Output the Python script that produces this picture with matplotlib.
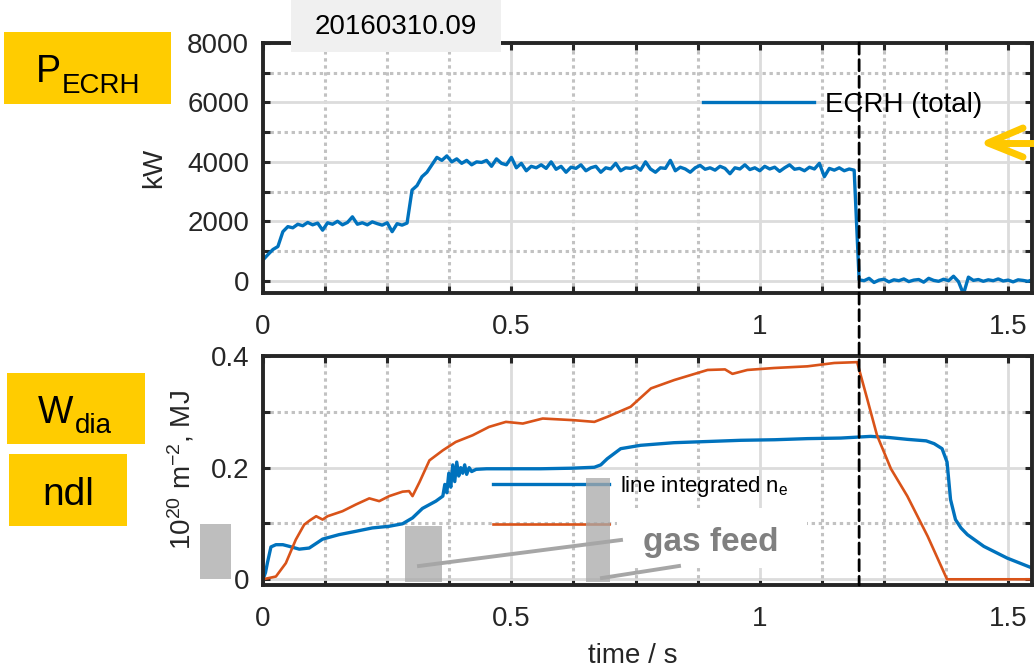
import numpy as np
import matplotlib.pyplot as plt
from matplotlib.patches import Rectangle, ConnectionPatch
from matplotlib.lines import Line2D
from matplotlib.ticker import MultipleLocator, FixedLocator

plt.rcParams['font.family'] = ['Liberation Sans', 'DejaVu Sans']
plt.rcParams['mathtext.fontset'] = 'custom'
plt.rcParams['mathtext.rm'] = 'Liberation Sans'
plt.rcParams['mathtext.it'] = 'Liberation Sans:italic'

W, H = 1034, 668

# ECRH total power, kW (sampled every 10 ms)
ecrh_t = [0.00, 0.01, 0.02, 0.03, 0.04, 0.05, 0.06, 0.07, 0.08, 0.09,
          0.10, 0.11, 0.12, 0.13, 0.14, 0.15, 0.16, 0.17, 0.18, 0.19,
          0.20, 0.21, 0.22, 0.23, 0.24, 0.25, 0.26, 0.27, 0.28, 0.29,
          0.30, 0.31, 0.32, 0.33, 0.34, 0.35, 0.36, 0.37, 0.38, 0.39,
          0.40, 0.41, 0.42, 0.43, 0.44, 0.45, 0.46, 0.47, 0.48, 0.49,
          0.50, 0.51, 0.52, 0.53, 0.54, 0.55, 0.56, 0.57, 0.58, 0.59,
          0.60, 0.61, 0.62, 0.63, 0.64, 0.65, 0.66, 0.67, 0.68, 0.69,
          0.70, 0.71, 0.72, 0.73, 0.74, 0.75, 0.76, 0.77, 0.78, 0.79,
          0.80, 0.81, 0.82, 0.83, 0.84, 0.85, 0.86, 0.87, 0.88, 0.89,
          0.90, 0.91, 0.92, 0.93, 0.94, 0.95, 0.96, 0.97, 0.98, 0.99,
          1.00, 1.01, 1.02, 1.03, 1.04, 1.05, 1.06, 1.07, 1.08, 1.09,
          1.10, 1.11, 1.12, 1.13, 1.14, 1.15, 1.16, 1.17, 1.18, 1.19,
          1.20, 1.21, 1.22, 1.23, 1.24, 1.25, 1.26, 1.27, 1.28, 1.29,
          1.30, 1.31, 1.32, 1.33, 1.34, 1.35, 1.36, 1.37, 1.38, 1.39,
          1.40, 1.41, 1.42, 1.43, 1.44, 1.45, 1.46, 1.47, 1.48, 1.49,
          1.50, 1.51, 1.52, 1.53, 1.54, 1.55]
ecrh_kw = [700, 880, 1050, 1150, 1650, 1820, 1780, 1900, 1850, 1960,
           1880, 1940, 1700, 1950, 1900, 2000, 1880, 1960, 2150, 1900,
           1950, 1880, 1980, 1920, 1870, 1950, 1650, 1920, 1870, 1940,
           3050, 3200, 3500, 3650, 3900, 4150, 4050, 4200, 4000, 4100,
           3950, 4050, 3900, 4000, 3980, 4050, 3850, 4100, 3950, 3900,
           4150, 3800, 3950, 3700, 3850, 3800, 3900, 3780, 4000, 3750,
           3850, 3650, 3820, 3780, 3900, 3700, 3800, 3850, 3650, 3800,
           3760, 3950, 3700, 3800, 3780, 3850, 3720, 4000, 3760, 3650,
           3800, 3780, 4050, 3700, 3820, 3760, 3650, 3800, 3880, 3750,
           3800, 3720, 3850, 3780, 3600, 3800, 3760, 3900, 3740, 3800,
           3700, 3850, 3760, 3820, 3680, 3800, 3900, 3750, 3780, 3700,
           3820, 3760, 3950, 3500, 3780, 3720, 3800, 3700, 3760, 3720,
           30, 0, 80, -60, 20, 50, -40, 30, 0, 60,
           -30, 20, 40, -50, 80, 10, -20, 50, 0, 150,
           -30, -450, 120, 10, 40, -20, 30, 0, 60, -10,
           20, -40, 30, 10, -20, 40]

# line integrated density, 1e20 m^-2
ne_t = [0.0, 0.005, 0.009, 0.016, 0.026, 0.04, 0.053, 0.073, 0.093, 0.11,
        0.12, 0.153, 0.187, 0.22, 0.254, 0.281, 0.301, 0.321, 0.348, 0.362,
        0.366, 0.37, 0.374, 0.378, 0.382, 0.386, 0.39, 0.394, 0.398, 0.402,
        0.406, 0.41, 0.415, 0.42, 0.429, 0.45, 0.5, 0.559, 0.62, 0.667,
        0.68, 0.693, 0.72, 0.76, 0.827, 0.9, 0.962, 1.03, 1.096, 1.163,
        1.223, 1.26, 1.297, 1.335, 1.351, 1.367, 1.377, 1.384, 1.394, 1.405,
        1.418, 1.451, 1.498, 1.549]
ne_val = [0.0, 0.012, 0.03, 0.058, 0.062, 0.062, 0.059, 0.054, 0.056, 0.066,
          0.072, 0.080, 0.086, 0.092, 0.095, 0.0995, 0.110, 0.127, 0.140, 0.149,
          0.170, 0.155, 0.190, 0.165, 0.205, 0.175, 0.210, 0.185, 0.200, 0.190,
          0.205, 0.188, 0.200, 0.193, 0.197, 0.198, 0.198, 0.198, 0.199, 0.2007,
          0.205, 0.216, 0.234, 0.240, 0.2447, 0.247, 0.249, 0.250, 0.252, 0.253,
          0.256, 0.254, 0.2507, 0.248, 0.243, 0.234, 0.210, 0.143, 0.107, 0.092,
          0.080, 0.059, 0.038, 0.020]

# diamagnetic energy, MJ
wdia_t = [0.0, 0.026, 0.046, 0.066, 0.083, 0.095, 0.107, 0.12, 0.13, 0.14,
          0.16, 0.187, 0.214, 0.234, 0.254, 0.281, 0.294, 0.301, 0.315, 0.335,
          0.362, 0.388, 0.422, 0.455, 0.489, 0.523, 0.563, 0.626, 0.667, 0.693,
          0.74, 0.781, 0.828, 0.895, 0.93, 0.945, 0.975, 1.029, 1.096, 1.15,
          1.196, 1.216, 1.236, 1.264, 1.297, 1.338, 1.377, 1.549]
wdia_val = [0.0, 0.005, 0.029, 0.071, 0.098, 0.106, 0.113, 0.107, 0.113, 0.116,
            0.122, 0.134, 0.145, 0.140, 0.149, 0.157, 0.158, 0.149, 0.174, 0.213,
            0.231, 0.246, 0.258, 0.273, 0.282, 0.279, 0.288, 0.285, 0.282, 0.291,
            0.309, 0.342, 0.357, 0.375, 0.376, 0.368, 0.375, 0.3785, 0.3815, 0.3875,
            0.389, 0.324, 0.258, 0.198, 0.149, 0.077, 0.0, 0.0]

t_ecrh_off = 1.2
shot = '20160310.09'

BLUE = '#0072BD'
ORANGE = '#D95319'
YELLOW = '#FFCC00'
DARK = '#262626'


def fx(x):
    return x / W


def fy(y):
    return 1 - y / H


def px_rect(x0, y0, x1, y1, **kw):
    r = Rectangle((fx(x0), fy(y1)), (x1 - x0) / W, (y1 - y0) / H,
                  transform=fig.transFigure, **kw)
    fig.add_artist(r)
    return r


def px_line(xs, ys, **kw):
    l = Line2D([fx(x) for x in xs], [fy(y) for y in ys],
               transform=fig.transFigure, **kw)
    fig.add_artist(l)
    return l


def style_axes(ax, ymajor, yminor):
    ax.set_xlim(0, 1.548)
    ax.set_xticks([0, 0.5, 1, 1.5])
    ax.set_xticklabels(['0', '0.5', '1', '1.5'])
    ax.xaxis.set_minor_locator(MultipleLocator(0.125))
    ax.yaxis.set_major_locator(FixedLocator(ymajor))
    ax.yaxis.set_minor_locator(FixedLocator(yminor))
    ax.grid(which='major', color='#dcdcdc', lw=2.0, ls='-')
    ax.grid(which='minor', color='#c2c2c2', lw=2.2, ls=(0, (1.1, 1.2)))
    ax.set_axisbelow(True)
    for s in ax.spines.values():
        s.set_linewidth(2.8)
        s.set_color(DARK)
    ax.tick_params(which='both', direction='in', top=True, right=True,
                   length=5, width=2.2, color=DARK, labelsize=20,
                   labelcolor=DARK)
    ax.tick_params(axis='y', which='both', pad=10)
    ax.tick_params(axis='x', which='both', pad=15)


fig = plt.figure(figsize=(W / 100, H / 100), dpi=100)

# top panel: ECRH power
ax1 = fig.add_axes([fx(263), fy(293), (1032 - 263) / W, (293 - 43) / H])
ax1.plot(ecrh_t, ecrh_kw, color=BLUE, lw=2.4, label='ECRH (total)')
ax1.set_ylim(-414, 8000)
style_axes(ax1, [0, 2000, 4000, 6000, 8000], [1000, 3000, 5000, 7000])
ax1.set_yticklabels(['0', '2000', '4000', '6000', '8000'])
ax1.set_ylabel('kW', fontsize=20, color=DARK)
ax1.yaxis.set_label_coords((167 - 263) / 769, 0.5)
ax1.legend(loc='center left', bbox_to_anchor=(fx(703), fy(105)),
           bbox_transform=fig.transFigure, frameon=False, borderpad=0,
           borderaxespad=0, handlelength=4.0, handletextpad=0.4, fontsize=20)

# bottom panel: density and stored energy
ax2 = fig.add_axes([fx(263), fy(585), (1032 - 263) / W, (585 - 356) / H])
l_ne, = ax2.plot(ne_t, ne_val, color=BLUE, lw=2.4)
l_w, = ax2.plot(wdia_t, wdia_val, color=ORANGE, lw=1.9)
ax2.set_ylim(-0.0102, 0.4)
style_axes(ax2, [0, 0.2, 0.4], [0.1, 0.3])
ax2.set_yticklabels(['0', '0.2', '0.4'])
ax2.set_ylabel('10$^{\\mathregular{20}}$ m$^{\\mathregular{-2}}$, MJ', fontsize=20, color=DARK)
ax2.yaxis.set_label_coords((197 - 263) / 769, 0.5)
ax2.set_xlabel('time / s', fontsize=20, color=DARK)
ax2.xaxis.set_label_coords((633 - 263) / 769, (585 - 643) / 229)
# second legend label is hidden under the white cover in the original slide
ax2.legend([l_ne, l_w], ['line integrated n$_{\\mathregular{e}}$', ' '],
           loc='center left', bbox_to_anchor=(fx(493), fy(505)),
           bbox_transform=fig.transFigure, frameon=False, borderpad=0,
           borderaxespad=0, handlelength=5.2, handletextpad=0.5,
           labelspacing=0.75, fontsize=16)

# ECRH switch-off marker across both panels
con = ConnectionPatch(xyA=(t_ecrh_off, 8000), coordsA='data', axesA=ax1,
                      xyB=(t_ecrh_off, -0.0102), coordsB='data', axesB=ax2,
                      color='black', lw=2.0, ls=(0, (4, 2)), zorder=5)
fig.add_artist(con)

# shot number box
px_rect(291, 0, 501, 52, facecolor='#f0f0f0', edgecolor='none')
fig.text(fx(396), fy(27), shot, ha='center', va='center', fontsize=20)

# yellow labels
px_rect(4, 32, 171, 104, facecolor=YELLOW, edgecolor='none')
fig.text(fx(36), fy(82), 'P', fontsize=27, va='baseline')
fig.text(fx(62), fy(93), 'ECRH', fontsize=20, va='baseline')
px_rect(7, 373, 145, 444, facecolor=YELLOW, edgecolor='none')
fig.text(fx(38), fy(423), 'W', fontsize=27, va='baseline')
fig.text(fx(75), fy(433), 'dia', fontsize=20, va='baseline')
px_rect(9, 454, 127, 526, facecolor=YELLOW, edgecolor='none')
fig.text(fx(68), fy(505), 'ndl', fontsize=28, ha='center', va='baseline')

# cover over second legend entry, gas feed annotation
px_rect(617, 508, 807, 568, facecolor='white', edgecolor='none')
for (x0, y0, x1, y1) in [(200, 524, 231, 579), (405, 526, 442, 582), (586, 478, 610, 582)]:
    px_rect(x0, y0, x1, y1, facecolor='#a9a9a9', edgecolor='none', alpha=0.75)
px_line([419, 621], [566, 540], color='#a6a6a6', lw=2.8)
px_line([602, 679], [578, 566], color='#a6a6a6', lw=2.8)
fig.text(fx(711), fy(543), 'gas feed', fontsize=24, fontweight='bold',
         color='#808080', ha='center', va='center')

# yellow arrow at right
px_line([1023, 988, 1023], [128, 143, 157], color='#FFC800', lw=5,
        solid_capstyle='round', solid_joinstyle='round')
px_line([992, 1040], [143, 143], color='#FFC800', lw=5, solid_capstyle='round')

fig.savefig('out.png', dpi=100)
